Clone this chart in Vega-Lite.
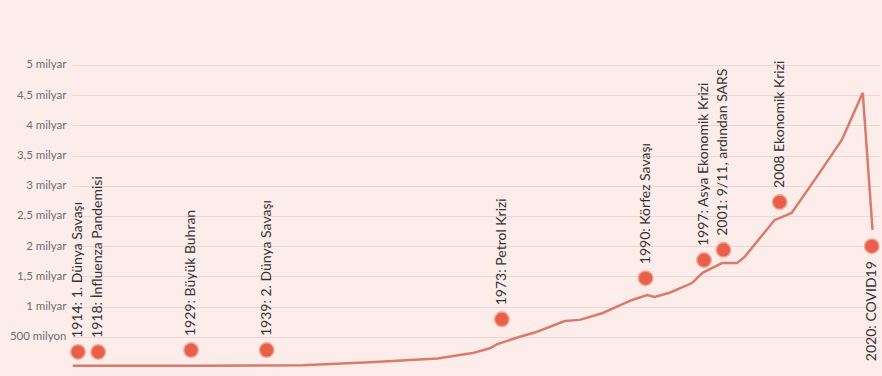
{
  "$schema": "https://vega.github.io/schema/vega-lite/v6.json",
  "width": 808,
  "height": 367,
  "autosize": "none",
  "padding": {"left": 72, "top": 0, "right": 2, "bottom": 9},
  "background": "#fcedeb",
  "config": {"view": {"stroke": null}, "font": "Lato"},
  "datasets": {
    "line": [
      {"year": 1913.3, "value": 0.02},
      {"year": 1930, "value": 0.02},
      {"year": 1944, "value": 0.03},
      {"year": 1953, "value": 0.08},
      {"year": 1962, "value": 0.14},
      {"year": 1966.7, "value": 0.23},
      {"year": 1969, "value": 0.31},
      {"year": 1970, "value": 0.38},
      {"year": 1973, "value": 0.5},
      {"year": 1975, "value": 0.57},
      {"year": 1979, "value": 0.76},
      {"year": 1981, "value": 0.78},
      {"year": 1984, "value": 0.89},
      {"year": 1988, "value": 1.11},
      {"year": 1990, "value": 1.19},
      {"year": 1991, "value": 1.16},
      {"year": 1993, "value": 1.23},
      {"year": 1996, "value": 1.39},
      {"year": 1997.4, "value": 1.56},
      {"year": 2000, "value": 1.72},
      {"year": 2002, "value": 1.72},
      {"year": 2003, "value": 1.82},
      {"year": 2007, "value": 2.43},
      {"year": 2008.7, "value": 2.52},
      {"year": 2009.3, "value": 2.55},
      {"year": 2013, "value": 3.21},
      {"year": 2016, "value": 3.76},
      {"year": 2018.8, "value": 4.54},
      {"year": 2020.1, "value": 2.27}
    ],
    "events": [
      {"year": 1914.0, "value": 0.25, "label": "1914: 1. Dünya Savaşı", "side": "up"},
      {"year": 1916.7, "value": 0.25, "label": "1918: İnfluenza Pandemisi", "side": "up"},
      {"year": 1929.1, "value": 0.28, "label": "1929: Büyük Buhran", "side": "up"},
      {"year": 1939.2, "value": 0.28, "label": "1939: 2. Dünya Savaşı", "side": "up"},
      {"year": 1970.6, "value": 0.79, "label": "1973: Petrol Krizi", "side": "up"},
      {"year": 1989.8, "value": 1.47, "label": "1990: Körfez Savaşı", "side": "up"},
      {"year": 1997.6, "value": 1.77, "label": "1997: Asya Ekonomik Krizi", "side": "up"},
      {"year": 2000.2, "value": 1.94, "label": "2001: 9/11, ardından SARS", "side": "up"},
      {"year": 2007.7, "value": 2.73, "label": "2008 Ekonomik Krizi", "side": "up"},
      {"year": 2020.0, "value": 2.0, "label": "2020: COVID19", "side": "down"}
    ]
  },
  "layer": [
    {
      "data": {"name": "line"},
      "mark": {"type": "line", "color": "#d97a6a", "strokeWidth": 2.5, "clip": false},
      "encoding": {
        "x": {"field": "year", "type": "quantitative", "scale": {"domain": [1913.2, 2021.1], "nice": false, "zero": false}, "axis": null},
        "y": {"field": "value", "type": "quantitative", "scale": {"domain": [0, 6.076], "nice": false},
          "axis": {"title": null, "values": [0.5, 1, 1.5, 2, 2.5, 3, 3.5, 4, 4.5, 5], "labelExpr": "datum.value == 0.5 ? '500 milyon' : replace(format(datum.value, ''), '.', ',') + ' milyar'", "labelFontSize": 11.5, "labelColor": "#6e6e6e", "labelPadding": 6, "ticks": false, "domain": false, "gridColor": "#efd6d3", "gridWidth": 1.2}}
      }
    },
    {
      "data": {"name": "events"},
      "mark": {"type": "circle", "size": 210, "color": "#e8604c", "opacity": 1, "stroke": "#f3a395", "strokeWidth": 1.5},
      "encoding": {
        "x": {"field": "year", "type": "quantitative"},
        "y": {"field": "value", "type": "quantitative"}
      }
    },
    {
      "data": {"name": "events"},
      "transform": [{"filter": "datum.side == 'up'"}],
      "mark": {"type": "text", "angle": 270, "align": "left", "baseline": "middle", "dx": 14, "fontSize": 14, "color": "#333333"},
      "encoding": {
        "x": {"field": "year", "type": "quantitative"},
        "y": {"field": "value", "type": "quantitative"},
        "text": {"field": "label"}
      }
    },
    {
      "data": {"name": "events"},
      "transform": [{"filter": "datum.side == 'down'"}],
      "mark": {"type": "text", "angle": 270, "align": "right", "baseline": "middle", "dx": -15, "fontSize": 14, "color": "#333333"},
      "encoding": {
        "x": {"field": "year", "type": "quantitative"},
        "y": {"field": "value", "type": "quantitative"},
        "text": {"field": "label"}
      }
    }
  ]
}
